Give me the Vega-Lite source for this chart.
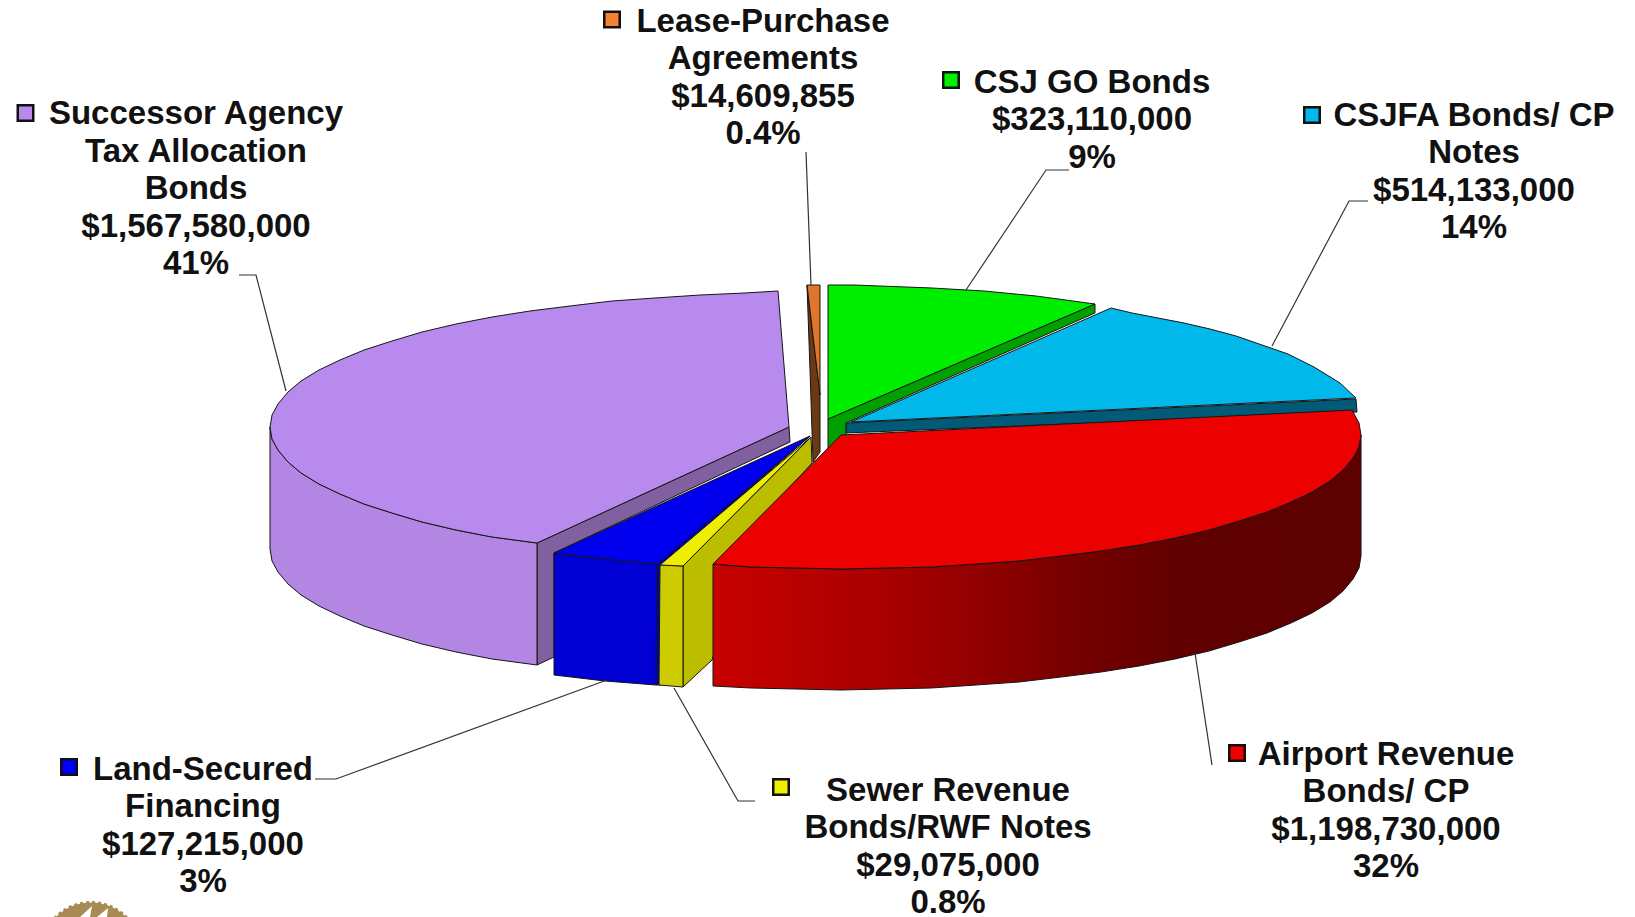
{"$schema":"https://vega.github.io/schema/vega-lite/v6.json","width":1635,"height":917,"padding":0,"autosize":{"type":"none"},"background":"white","view":{"stroke":null},
"datasets":{
"back":[
{"p":"cyan_side","n":1,"x":846,"y":423},{"p":"cyan_side","n":2,"x":1356,"y":399},{"p":"cyan_side","n":3,"x":1357,"y":412},{"p":"cyan_side","n":4,"x":846,"y":433},{"p":"cyan_side","n":5,"x":846,"y":423},
{"p":"green_side","n":1,"x":828,"y":419},{"p":"green_side","n":2,"x":1095,"y":304},{"p":"green_side","n":3,"x":1095,"y":313},{"p":"green_side","n":4,"x":846,"y":423},{"p":"green_side","n":5,"x":846,"y":436},{"p":"green_side","n":6,"x":828,"y":450},{"p":"green_side","n":7,"x":828,"y":419},
{"p":"green_top","n":1,"x":828,"y":285},{"p":"green_top","n":2,"x":854,"y":285},{"p":"green_top","n":3,"x":880,"y":286},{"p":"green_top","n":4,"x":932,"y":288},{"p":"green_top","n":5,"x":984,"y":291},{"p":"green_top","n":6,"x":1036,"y":296},{"p":"green_top","n":7,"x":1095,"y":304},{"p":"green_top","n":8,"x":828,"y":419},{"p":"green_top","n":9,"x":828,"y":285},
{"p":"cyan_top","n":1,"x":851,"y":422},{"p":"cyan_top","n":2,"x":1111,"y":308},{"p":"cyan_top","n":3,"x":1132,"y":313},{"p":"cyan_top","n":4,"x":1158,"y":318},{"p":"cyan_top","n":5,"x":1184,"y":323},{"p":"cyan_top","n":6,"x":1210,"y":329},{"p":"cyan_top","n":7,"x":1236,"y":336},{"p":"cyan_top","n":8,"x":1262,"y":345},{"p":"cyan_top","n":9,"x":1288,"y":354},{"p":"cyan_top","n":10,"x":1314,"y":367},{"p":"cyan_top","n":11,"x":1340,"y":383},{"p":"cyan_top","n":12,"x":1356,"y":398},{"p":"cyan_top","n":13,"x":851,"y":422},
{"p":"orange_side","n":1,"x":807,"y":285},{"p":"orange_side","n":2,"x":820,"y":395},{"p":"orange_side","n":3,"x":820,"y":452},{"p":"orange_side","n":4,"x":813,"y":462},{"p":"orange_side","n":5,"x":810,"y":370},{"p":"orange_side","n":6,"x":807,"y":285},
{"p":"orange_top","n":1,"x":807,"y":285},{"p":"orange_top","n":2,"x":820,"y":285},{"p":"orange_top","n":3,"x":820,"y":395},{"p":"orange_top","n":4,"x":807,"y":285},
{"p":"purple_inner","n":1,"x":537,"y":543},{"p":"purple_inner","n":2,"x":789,"y":427},{"p":"purple_inner","n":3,"x":790,"y":442},{"p":"purple_inner","n":4,"x":554,"y":553},{"p":"purple_inner","n":5,"x":554,"y":657},{"p":"purple_inner","n":6,"x":537,"y":665},{"p":"purple_inner","n":7,"x":537,"y":543},
{"p":"purple_side","n":1,"x":270,"y":427},{"p":"purple_side","n":2,"x":272,"y":439},{"p":"purple_side","n":3,"x":278,"y":450},{"p":"purple_side","n":4,"x":288,"y":462},{"p":"purple_side","n":5,"x":301,"y":473},{"p":"purple_side","n":6,"x":319,"y":484},{"p":"purple_side","n":7,"x":340,"y":494},{"p":"purple_side","n":8,"x":364,"y":504},{"p":"purple_side","n":9,"x":392,"y":513},{"p":"purple_side","n":10,"x":422,"y":522},{"p":"purple_side","n":11,"x":456,"y":530},{"p":"purple_side","n":12,"x":492,"y":537},{"p":"purple_side","n":13,"x":537,"y":543},{"p":"purple_side","n":14,"x":537,"y":665},{"p":"purple_side","n":15,"x":492,"y":659},{"p":"purple_side","n":16,"x":456,"y":652},{"p":"purple_side","n":17,"x":422,"y":644},{"p":"purple_side","n":18,"x":392,"y":635},{"p":"purple_side","n":19,"x":364,"y":626},{"p":"purple_side","n":20,"x":340,"y":616},{"p":"purple_side","n":21,"x":319,"y":606},{"p":"purple_side","n":22,"x":301,"y":595},{"p":"purple_side","n":23,"x":288,"y":584},{"p":"purple_side","n":24,"x":278,"y":572},{"p":"purple_side","n":25,"x":272,"y":561},{"p":"purple_side","n":26,"x":270,"y":549},{"p":"purple_side","n":27,"x":270,"y":427},
{"p":"purple_top","n":1,"x":789,"y":427},{"p":"purple_top","n":2,"x":778,"y":291},{"p":"purple_top","n":3,"x":745,"y":293},{"p":"purple_top","n":4,"x":700,"y":295},{"p":"purple_top","n":5,"x":655,"y":298},{"p":"purple_top","n":6,"x":612,"y":301},{"p":"purple_top","n":7,"x":570,"y":306},{"p":"purple_top","n":8,"x":530,"y":311},{"p":"purple_top","n":9,"x":492,"y":317},{"p":"purple_top","n":10,"x":456,"y":324},{"p":"purple_top","n":11,"x":422,"y":332},{"p":"purple_top","n":12,"x":392,"y":341},{"p":"purple_top","n":13,"x":364,"y":350},{"p":"purple_top","n":14,"x":340,"y":360},{"p":"purple_top","n":15,"x":319,"y":370},{"p":"purple_top","n":16,"x":301,"y":381},{"p":"purple_top","n":17,"x":288,"y":392},{"p":"purple_top","n":18,"x":278,"y":404},{"p":"purple_top","n":19,"x":272,"y":415},{"p":"purple_top","n":20,"x":270,"y":427},{"p":"purple_top","n":21,"x":272,"y":439},{"p":"purple_top","n":22,"x":278,"y":450},{"p":"purple_top","n":23,"x":288,"y":462},{"p":"purple_top","n":24,"x":301,"y":473},{"p":"purple_top","n":25,"x":319,"y":484},{"p":"purple_top","n":26,"x":340,"y":494},{"p":"purple_top","n":27,"x":364,"y":504},{"p":"purple_top","n":28,"x":392,"y":513},{"p":"purple_top","n":29,"x":422,"y":522},{"p":"purple_top","n":30,"x":456,"y":530},{"p":"purple_top","n":31,"x":492,"y":537},{"p":"purple_top","n":32,"x":537,"y":543},{"p":"purple_top","n":33,"x":789,"y":427},
{"p":"blue_side","n":1,"x":657,"y":563},{"p":"blue_side","n":2,"x":810,"y":436},{"p":"blue_side","n":3,"x":661,"y":566},{"p":"blue_side","n":4,"x":661,"y":685},{"p":"blue_side","n":5,"x":656,"y":685},{"p":"blue_side","n":6,"x":657,"y":563},
{"p":"blue_front","n":1,"x":554,"y":553},{"p":"blue_front","n":2,"x":605,"y":559},{"p":"blue_front","n":3,"x":657,"y":564},{"p":"blue_front","n":4,"x":656,"y":685},{"p":"blue_front","n":5,"x":605,"y":681},{"p":"blue_front","n":6,"x":554,"y":675},{"p":"blue_front","n":7,"x":554,"y":553},
{"p":"blue_top","n":1,"x":810,"y":436},{"p":"blue_top","n":2,"x":554,"y":553},{"p":"blue_top","n":3,"x":605,"y":559},{"p":"blue_top","n":4,"x":657,"y":564},{"p":"blue_top","n":5,"x":810,"y":436},
{"p":"yellow_side","n":1,"x":683,"y":566},{"p":"yellow_side","n":2,"x":811,"y":437},{"p":"yellow_side","n":3,"x":812,"y":463},{"p":"yellow_side","n":4,"x":760,"y":520},{"p":"yellow_side","n":5,"x":712,"y":660},{"p":"yellow_side","n":6,"x":683,"y":687},{"p":"yellow_side","n":7,"x":683,"y":566},
{"p":"yellow_front","n":1,"x":660,"y":565},{"p":"yellow_front","n":2,"x":683,"y":566},{"p":"yellow_front","n":3,"x":683,"y":687},{"p":"yellow_front","n":4,"x":659,"y":685},{"p":"yellow_front","n":5,"x":660,"y":565},
{"p":"yellow_top","n":1,"x":811,"y":437},{"p":"yellow_top","n":2,"x":660,"y":565},{"p":"yellow_top","n":3,"x":683,"y":566},{"p":"yellow_top","n":4,"x":811,"y":437}
],
"redSide":[
{"n":1,"x":1361,"y":435},{"n":2,"x":1359,"y":447},{"n":3,"x":1353,"y":458},{"n":4,"x":1343,"y":470},{"n":5,"x":1330,"y":481},{"n":6,"x":1312,"y":492},{"n":7,"x":1291,"y":502},{"n":8,"x":1267,"y":512},{"n":9,"x":1239,"y":521},{"n":10,"x":1209,"y":530},{"n":11,"x":1175,"y":538},{"n":12,"x":1139,"y":545},{"n":13,"x":1101,"y":551},{"n":14,"x":1061,"y":556},{"n":15,"x":1019,"y":561},{"n":16,"x":976,"y":564},{"n":17,"x":931,"y":567},{"n":18,"x":886,"y":568},{"n":19,"x":841,"y":569},{"n":20,"x":796,"y":568},{"n":21,"x":751,"y":567},{"n":22,"x":713,"y":564},{"n":23,"x":713,"y":686},{"n":24,"x":751,"y":688},{"n":25,"x":796,"y":689},{"n":26,"x":841,"y":690},{"n":27,"x":886,"y":689},{"n":28,"x":931,"y":688},{"n":29,"x":976,"y":685},{"n":30,"x":1019,"y":682},{"n":31,"x":1061,"y":677},{"n":32,"x":1101,"y":672},{"n":33,"x":1139,"y":666},{"n":34,"x":1175,"y":659},{"n":35,"x":1209,"y":651},{"n":36,"x":1239,"y":642},{"n":37,"x":1267,"y":633},{"n":38,"x":1291,"y":623},{"n":39,"x":1312,"y":613},{"n":40,"x":1330,"y":602},{"n":41,"x":1343,"y":591},{"n":42,"x":1353,"y":579},{"n":43,"x":1359,"y":568},{"n":44,"x":1361,"y":556},{"n":45,"x":1361,"y":435}
],
"redTop":[
{"n":1,"x":841,"y":435},{"n":2,"x":1352,"y":410},{"n":3,"x":1359,"y":423},{"n":4,"x":1361,"y":435},{"n":5,"x":1359,"y":447},{"n":6,"x":1353,"y":458},{"n":7,"x":1343,"y":470},{"n":8,"x":1330,"y":481},{"n":9,"x":1312,"y":492},{"n":10,"x":1291,"y":502},{"n":11,"x":1267,"y":512},{"n":12,"x":1239,"y":521},{"n":13,"x":1209,"y":530},{"n":14,"x":1175,"y":538},{"n":15,"x":1139,"y":545},{"n":16,"x":1101,"y":551},{"n":17,"x":1061,"y":556},{"n":18,"x":1019,"y":561},{"n":19,"x":976,"y":564},{"n":20,"x":931,"y":567},{"n":21,"x":886,"y":568},{"n":22,"x":841,"y":569},{"n":23,"x":796,"y":568},{"n":24,"x":751,"y":567},{"n":25,"x":713,"y":564},{"n":26,"x":841,"y":435}
],
"leaders":[
{"s":"Successor","n":1,"x":239,"y":275},{"s":"Successor","n":2,"x":256,"y":275},{"s":"Successor","n":3,"x":286,"y":391},
{"s":"Lease","n":1,"x":806,"y":152},{"s":"Lease","n":2,"x":811,"y":285},
{"s":"GO","n":1,"x":1069,"y":170},{"s":"GO","n":2,"x":1046,"y":170},{"s":"GO","n":3,"x":966,"y":290},
{"s":"CSJFA","n":1,"x":1368,"y":201},{"s":"CSJFA","n":2,"x":1349,"y":201},{"s":"CSJFA","n":3,"x":1272,"y":346},
{"s":"Airport","n":1,"x":1195,"y":653},{"s":"Airport","n":2,"x":1212,"y":765},
{"s":"Sewer","n":1,"x":755,"y":801},{"s":"Sewer","n":2,"x":738,"y":801},{"s":"Sewer","n":3,"x":674,"y":688},
{"s":"Land","n":1,"x":315,"y":779},{"s":"Land","n":2,"x":336,"y":779},{"s":"Land","n":3,"x":607,"y":680}
],
"labels":[
{"name":"Successor Agency Tax Allocation Bonds","amount":1567580000,"label":"Successor Agency\nTax Allocation\nBonds\n$1,567,580,000\n41%","x":196,"y":124,"kx":25.5,"ky":113,"key":"#B98AED"},
{"name":"Lease-Purchase Agreements","amount":14609855,"label":"Lease-Purchase\nAgreements\n$14,609,855\n0.4%","x":763,"y":31.5,"kx":612,"ky":19.5,"key":"#F58233"},
{"name":"CSJ GO Bonds","amount":323110000,"label":"CSJ GO Bonds\n$323,110,000\n9%","x":1092,"y":92.5,"kx":951,"ky":80,"key":"#00EE00"},
{"name":"CSJFA Bonds/ CP Notes","amount":514133000,"label":"CSJFA Bonds/ CP\nNotes\n$514,133,000\n14%","x":1474,"y":125.5,"kx":1312,"ky":115,"key":"#00B8EA"},
{"name":"Airport Revenue Bonds/ CP","amount":1198730000,"label":"Airport Revenue\nBonds/ CP\n$1,198,730,000\n32%","x":1386,"y":764.5,"kx":1237,"ky":753,"key":"#EE0000"},
{"name":"Sewer Revenue Bonds/RWF Notes","amount":29075000,"label":"Sewer Revenue\nBonds/RWF Notes\n$29,075,000\n0.8%","x":948,"y":800.5,"kx":781,"ky":787,"key":"#EEEE00"},
{"name":"Land-Secured Financing","amount":127215000,"label":"Land-Secured\nFinancing\n$127,215,000\n3%","x":203,"y":779.5,"kx":69,"ky":767,"key":"#0000FF"}
],
"seal":[{"x":91,"y":952}],
"sealCut":[
{"s":"a","n":1,"x":80,"y":917},{"s":"a","n":2,"x":92,"y":906},{"s":"a","n":3,"x":90,"y":917},{"s":"a","n":4,"x":80,"y":917},
{"s":"b","n":1,"x":97,"y":917},{"s":"b","n":2,"x":108,"y":908},{"s":"b","n":3,"x":107,"y":917},{"s":"b","n":4,"x":97,"y":917}
]
},
"layer":[
{"data":{"name":"seal"},"mark":{"type":"point","shape":"circle","filled":true,"size":9800,"fill":"#A88A55","stroke":"#A88A55","strokeWidth":3,"strokeDash":[3,3],"opacity":1,"clip":true},"encoding":{"x":{"field":"x","type":"quantitative","scale":{"domain":[0,1635],"nice":false,"zero":false},"axis":null},"y":{"field":"y","type":"quantitative","scale":{"domain":[917,0],"nice":false,"zero":false},"axis":null}}},
{"data":{"name":"sealCut"},"mark":{"type":"line","filled":true,"fill":"white","stroke":null,"clip":true},"encoding":{"x":{"field":"x","type":"quantitative"},"y":{"field":"y","type":"quantitative"},"detail":{"field":"s"},"order":{"field":"n"}}},
{"data":{"name":"back"},"mark":{"type":"line","filled":true,"stroke":"#151515","strokeWidth":1,"strokeJoin":"round","interpolate":"linear"},"encoding":{"x":{"field":"x","type":"quantitative"},"y":{"field":"y","type":"quantitative"},"detail":{"field":"p"},"order":{"field":"n"},"fill":{"field":"p","type":"nominal","legend":null,"scale":{"domain":["cyan_side","green_side","green_top","cyan_top","orange_side","orange_top","purple_inner","purple_side","purple_top","blue_side","blue_front","blue_top","yellow_side","yellow_front","yellow_top"],"range":["#005A78","#00A000","#00EE00","#00B8EA","#6B3A14","#E0762C","#80609F","#B386E3","#B98AED","#0000C0","#0000D4","#0000EE","#BDBD00","#CCCC00","#EEEE00"]}}}},
{"data":{"name":"redSide"},"mark":{"type":"line","filled":true,"stroke":"#151515","strokeWidth":1,"fill":{"gradient":"linear","x1":0,"x2":1,"y1":0,"y2":0,"stops":[{"offset":0,"color":"#C80000"},{"offset":0.3,"color":"#A40000"},{"offset":0.55,"color":"#780000"},{"offset":0.72,"color":"#600000"},{"offset":1,"color":"#5C0000"}]}},"encoding":{"x":{"field":"x","type":"quantitative"},"y":{"field":"y","type":"quantitative"},"order":{"field":"n"}}},
{"data":{"name":"redTop"},"mark":{"type":"line","filled":true,"stroke":"#151515","strokeWidth":1,"fill":"#EC0000"},"encoding":{"x":{"field":"x","type":"quantitative"},"y":{"field":"y","type":"quantitative"},"order":{"field":"n"}}},
{"data":{"name":"leaders"},"mark":{"type":"line","stroke":"#333333","strokeWidth":1.2},"encoding":{"x":{"field":"x","type":"quantitative"},"y":{"field":"y","type":"quantitative"},"detail":{"field":"s"},"order":{"field":"n"}}},
{"data":{"name":"labels"},"mark":{"type":"text","font":"Liberation Sans","fontWeight":"bold","fontSize":33,"color":"#111111","align":"center","baseline":"alphabetic","lineBreak":"\n","lineHeight":37.6},"encoding":{"x":{"field":"x","type":"quantitative"},"y":{"field":"y","type":"quantitative"},"text":{"field":"label"}}},
{"data":{"name":"labels"},"mark":{"type":"point","shape":"square","filled":true,"size":240,"stroke":"#111111","strokeWidth":2.5,"opacity":1},"encoding":{"x":{"field":"kx","type":"quantitative"},"y":{"field":"ky","type":"quantitative"},"fill":{"field":"key","type":"nominal","scale":null,"legend":null}}}
],
"resolve":{"scale":{"fill":"independent"}}
}
